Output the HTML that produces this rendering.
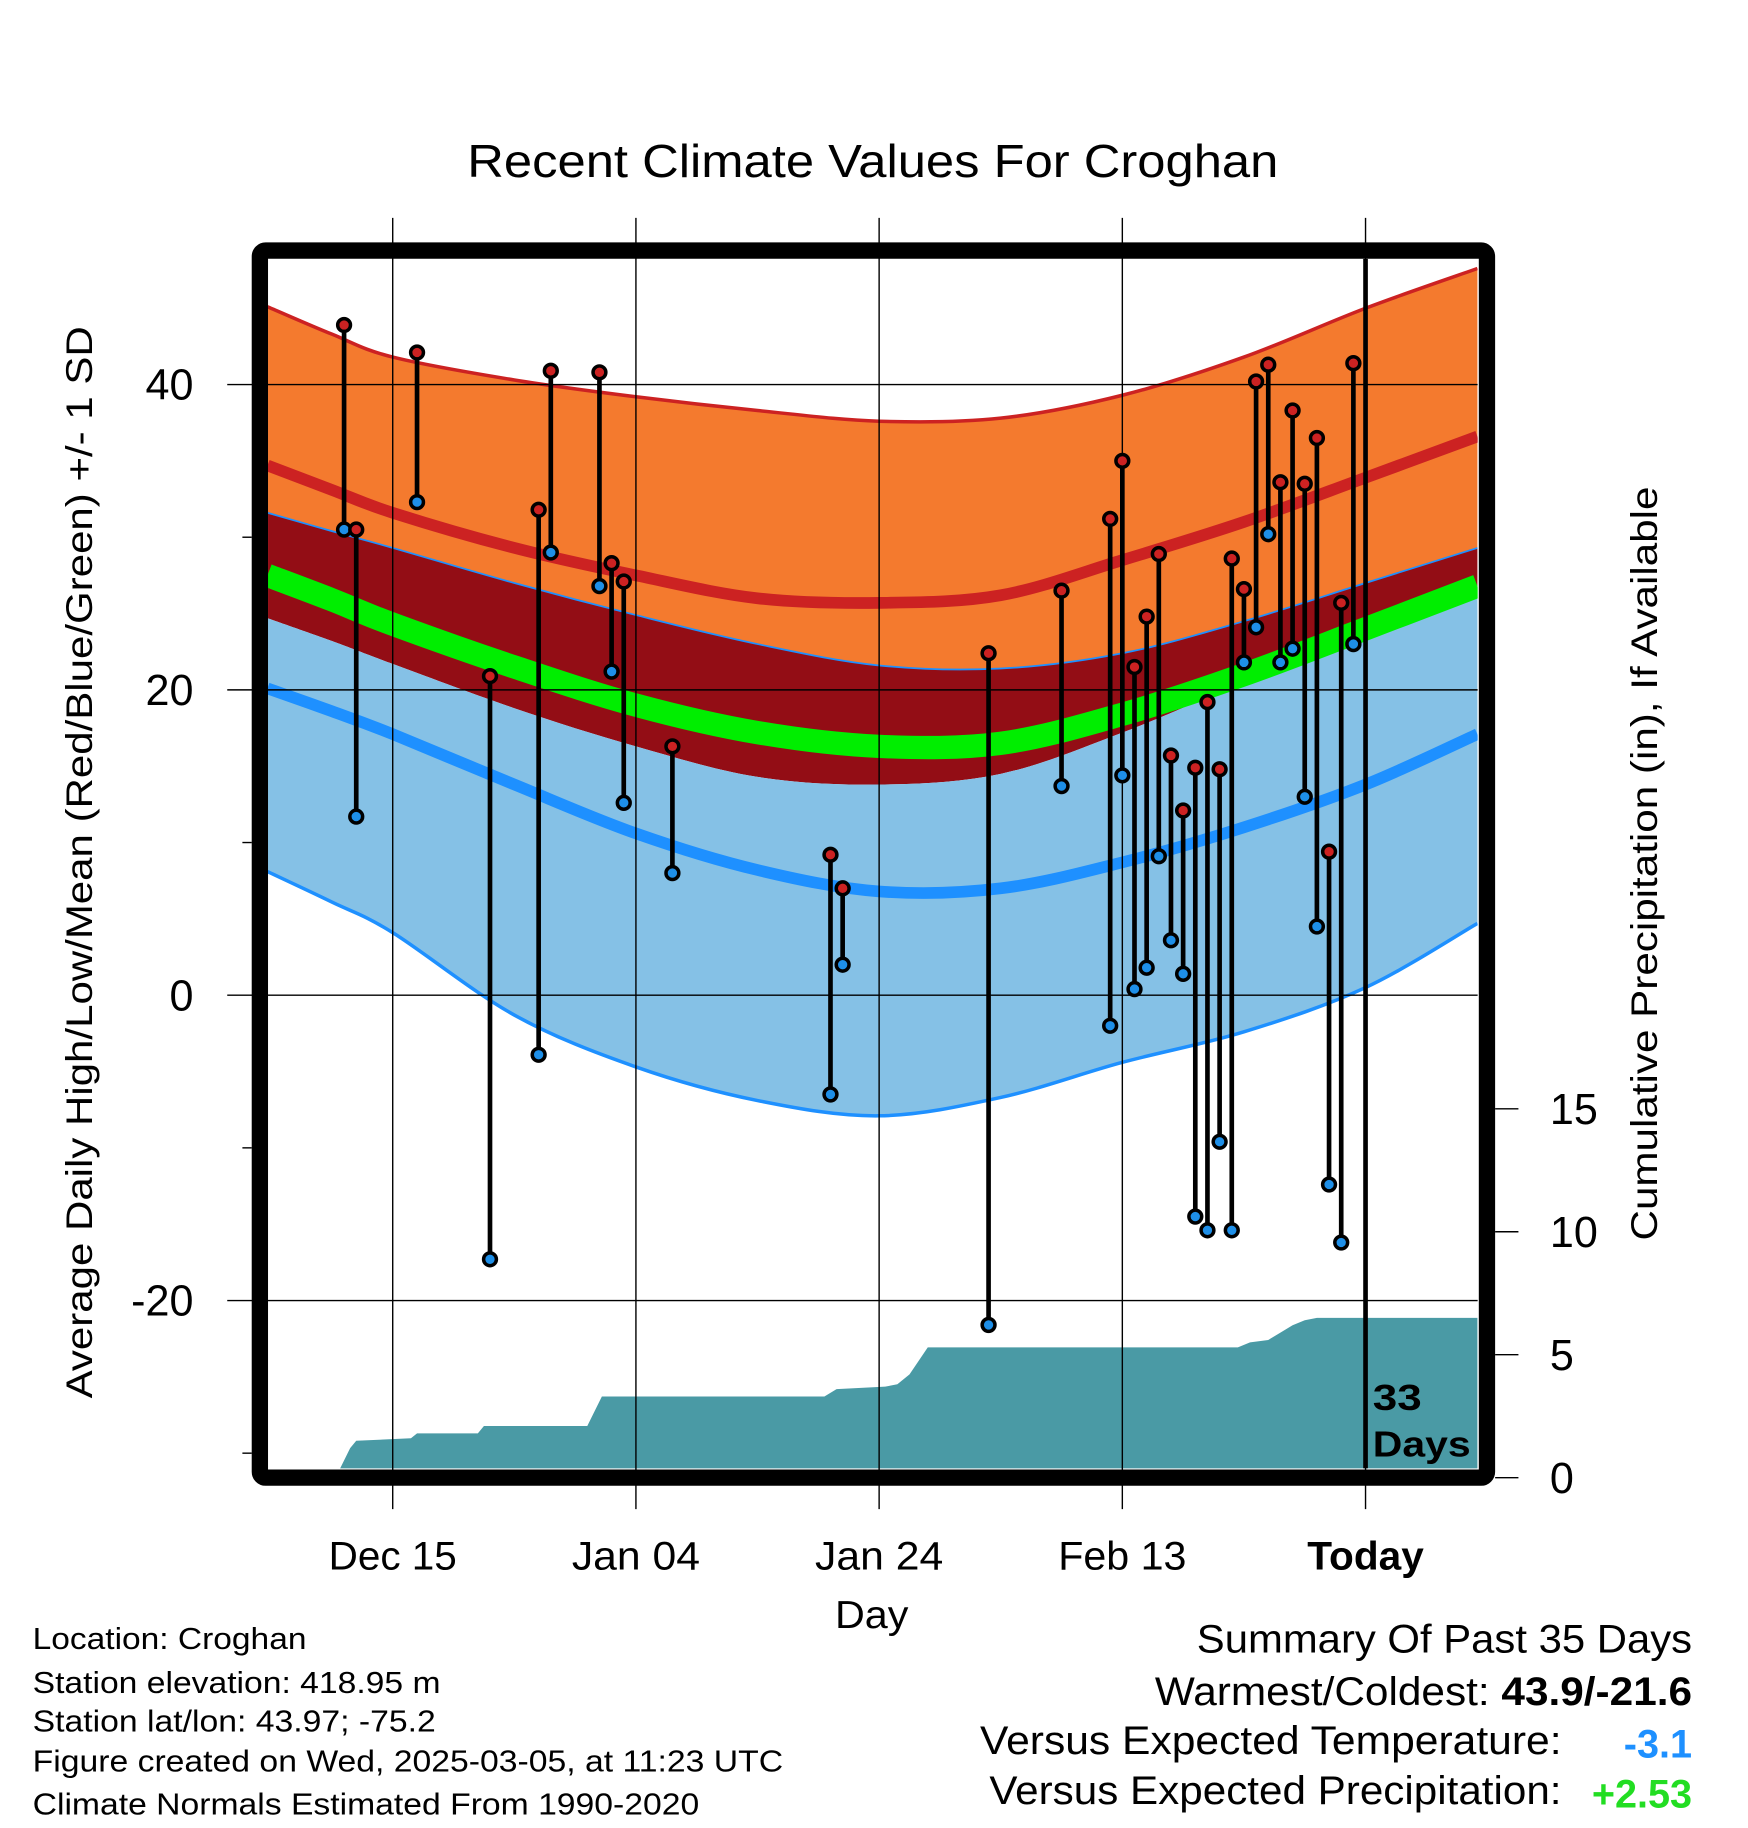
<!DOCTYPE html>
<html><head><meta charset="utf-8"><style>
html,body{margin:0;padding:0;background:#fff;}
svg{display:block;font-family:"Liberation Sans",sans-serif;}
</style></head><body>
<svg id="chart" width="1748" height="1828" viewBox="0 0 1500 1568.65" xmlns="http://www.w3.org/2000/svg">
<defs><clipPath id="plotclip"><rect x="230" y="222" width="1038" height="1038"/></clipPath></defs>
<g id="bands" clip-path="url(#plotclip)"></g>
<g id="precip" clip-path="url(#plotclip)"></g>
<g id="grid"></g>
<g id="stems" clip-path="url(#plotclip)"></g>
<rect x="223" y="215" width="1053" height="1053" rx="5" fill="none" stroke="#000" stroke-width="14"/>
<g id="axes"></g>
<text x="749" y="152" font-size="40" text-anchor="middle" textLength="696" lengthAdjust="spacingAndGlyphs">Recent Climate Values For Croghan</text>
<text transform="translate(79,740) rotate(-90)" font-size="32" text-anchor="middle" textLength="920" lengthAdjust="spacingAndGlyphs">Average Daily High/Low/Mean (Red/Blue/Green) +/- 1 SD</text>
<text transform="translate(1422,741) rotate(-90)" font-size="32" text-anchor="middle" textLength="647" lengthAdjust="spacingAndGlyphs">Cumulative Precipitation (in), If Available</text>
<text x="748" y="1397" font-size="33" text-anchor="middle" textLength="63" lengthAdjust="spacingAndGlyphs">Day</text>
<text x="1178" y="1210" font-size="31" font-weight="bold" textLength="42" lengthAdjust="spacingAndGlyphs">33</text>
<text x="1178" y="1250" font-size="31" font-weight="bold" textLength="84" lengthAdjust="spacingAndGlyphs">Days</text>
<g font-size="26">
<text x="28" y="1415" textLength="235" lengthAdjust="spacingAndGlyphs">Location: Croghan</text>
<text x="28" y="1453" textLength="350" lengthAdjust="spacingAndGlyphs">Station elevation: 418.95 m</text>
<text x="28" y="1486" textLength="346" lengthAdjust="spacingAndGlyphs">Station lat/lon: 43.97; -75.2</text>
<text x="28" y="1520" textLength="644" lengthAdjust="spacingAndGlyphs">Figure created on Wed, 2025-03-05, at 11:23 UTC</text>
<text x="28" y="1557" textLength="572" lengthAdjust="spacingAndGlyphs">Climate Normals Estimated From 1990-2020</text>
</g>
<g font-size="34">
<text x="1027" y="1418" textLength="425" lengthAdjust="spacingAndGlyphs">Summary Of Past 35 Days</text>
<text x="991" y="1463" textLength="461" lengthAdjust="spacingAndGlyphs">Warmest/Coldest: <tspan font-weight="bold">43.9/-21.6</tspan></text>
<text x="841" y="1505" textLength="499" lengthAdjust="spacingAndGlyphs">Versus Expected Temperature:</text>
<text x="1452" y="1508" text-anchor="end" font-weight="bold" fill="#1e90ff">-3.1</text>
<text x="849" y="1548" textLength="491" lengthAdjust="spacingAndGlyphs">Versus Expected Precipitation:</text>
<text x="1452" y="1551" text-anchor="end" font-weight="bold" fill="#22dd22">+2.53</text>
</g>
</svg>
<script>
// ---- data ----
const normDays = [-10.3, -5, 0, 10, 20, 30, 40, 50, 60, 70, 80, 89.2];
const upperSD  = [45.1, 43.3, 41.8, 40.3, 39.2, 38.3, 37.6, 37.8, 39.3, 41.8, 45.0, 47.6];
const meanHigh = [34.7, 33.1, 31.6, 29.3, 27.5, 26.0, 25.7, 26.2, 28.5, 31.0, 33.9, 36.6];
const highLowSD= [31.6, 30.4, 29.3, 27.0, 24.9, 23.0, 21.6, 21.4, 22.4, 24.5, 27.0, 29.3];
const meanAvg  = [27.5, 25.9, 24.3, 21.5, 19.0, 17.2, 16.3, 16.5, 18.4, 21.0, 24.0, 26.8];
const lowHighSD= [24.7, 23.2, 21.7, 18.8, 16.3, 14.3, 13.8, 14.5, 17.2, 20.5, 23.5, 26.0];
const meanLow  = [20.1, 18.6, 17.1, 13.8, 10.6, 8.2, 6.8, 7.0, 8.7, 11.0, 13.8, 17.1];
const lowerSD  = [8.1, 6.1, 4.1, -1.3, -4.7, -6.9, -7.9, -6.7, -4.4, -2.4, 0.5, 4.7];

const obsDays  = [-4,-3,2,8,12,13,17,18,19,23,36,37,49,55,59,60,61,62,63,64,65,66,67,68,69,70,71,72,73,74,75,76,77,78,79];
const obsHigh  = [43.9,30.5,42.1,20.9,31.8,40.9,40.8,28.3,27.1,16.3,9.2,7.0,22.4,26.5,31.2,35.0,21.5,24.8,28.9,15.7,12.1,14.9,19.2,14.8,28.6,26.6,40.2,41.3,33.6,38.3,33.5,36.5,9.4,25.7,41.4];
const obsLow   = [30.5,11.7,32.3,-17.3,-3.9,29.0,26.8,21.2,12.6,8.0,-6.5,2.0,-21.6,13.7,-2.0,14.4,0.4,1.8,9.1,3.6,1.4,-14.5,-15.4,-9.6,-15.4,21.8,24.1,30.2,21.8,22.7,13.0,4.5,-12.4,-16.2,23.0];

const precipDays = [-10.3,-4.7,-3.5,-3,1.5,2,7,7.5,16,17.2,35.5,36.5,40.5,41.5,42.5,44,69.5,70.5,72,73,74,75,76,89.2];
const precipCum  = [0,0,1.2,1.5,1.6,1.8,1.8,2.1,2.1,3.3,3.3,3.6,3.7,3.8,4.2,5.3,5.3,5.5,5.6,5.9,6.2,6.4,6.5,6.5];

const xTickDays = [0,20,40,60,80];
const xTickLabels = ["Dec 15","Jan 04","Jan 24","Feb 13","Today"];
const yTicks = [40,20,0,-20];
const yMinor = [30,10,-10,-30];
const pTicks = [0,5,10,15];

// ---- scales ----
const X = d => 337 + d*10.435;
const Y = v => 854 - v*13.1;
const P = p => 1268 - p*21.1;
const NS = "http://www.w3.org/2000/svg";
function mk(tag, attrs, parent){ const e=document.createElementNS(NS,tag); for(const k in attrs) e.setAttribute(k,attrs[k]); parent.appendChild(e); return e; }
function pts(vals){ return normDays.map((d,i)=>[X(d),Y(vals[i])]); }
function smooth(p){
  let s = `M${p[0][0]},${p[0][1]}`;
  for(let i=0;i<p.length-1;i++){
    const p0=p[i-1]||p[i], p1=p[i], p2=p[i+1], p3=p[i+2]||p2;
    const c1=[p1[0]+(p2[0]-p0[0])/6, p1[1]+(p2[1]-p0[1])/6];
    const c2=[p2[0]-(p3[0]-p1[0])/6, p2[1]-(p3[1]-p1[1])/6];
    s += ` C${c1[0]},${c1[1]} ${c2[0]},${c2[1]} ${p2[0]},${p2[1]}`;
  }
  return s;
}
function band(topVals, botVals){
  const t = pts(topVals), b = pts(botVals).reverse();
  return smooth(t) + ' L' + smooth(b).slice(1) + ' Z';
}
const bands = document.getElementById('bands');
let e;
e = mk('path',{d:band(upperSD,highLowSD),fill:'#f47a2e'},bands);


e = mk('path',{d:band(highLowSD,lowHighSD),fill:'#930d15'},bands);


e = mk('path',{d:band(lowHighSD,lowerSD),fill:'#85c1e6'},bands);


e = mk('path',{d:smooth(pts(upperSD)),fill:'none',stroke:'#cc2222','stroke-width':3},bands);


e = mk('path',{d:smooth(pts(highLowSD)),fill:'none',stroke:'#1e90ff','stroke-width':1.5},bands);


e = mk('path',{d:smooth(pts(lowerSD)),fill:'none',stroke:'#1e90ff','stroke-width':3},bands);


e = mk('path',{d:smooth(pts(meanHigh)),fill:'none',stroke:'#cc2222','stroke-width':10},bands);


e = mk('path',{d:smooth(pts(meanAvg)),fill:'none',stroke:'#00ee00','stroke-width':20},bands);


e = mk('path',{d:smooth(pts(meanLow)),fill:'none',stroke:'#1e90ff','stroke-width':10},bands);



// precip
const pg = document.getElementById('precip');
let pd = `M${X(precipDays[0])},${P(0)}`;
precipDays.forEach((d,i)=>{ pd += ` L${X(d)},${P(precipCum[i])}`; });
pd += ` L${X(precipDays[precipDays.length-1])},${P(0)} Z`;
e = mk('path',{d:pd,fill:'#4a9aa5'},pg);



// grid
const grid = document.getElementById('grid');
xTickDays.forEach((d,i)=>{
  e = mk('line',{x1:X(d),x2:X(d),y1:187,y2:1295,stroke:'#000','stroke-width':1.2},grid);
  
  
});
yTicks.forEach(v=>{
  e = mk('line',{x1:195,x2:1268,y1:Y(v),y2:Y(v),stroke:'#000','stroke-width':1.2},grid);
  
  
});

// stems
const sg = document.getElementById('stems');
obsDays.forEach((d,i)=>{
  const x=X(d);
  e = mk('line',{x1:x,x2:x,y1:Y(obsHigh[i]),y2:Y(obsLow[i]),stroke:'#000','stroke-width':4},sg);
  
  
});
obsDays.forEach((d,i)=>{
  const x=X(d);
  e = mk('circle',{cx:x,cy:Y(obsHigh[i]),r:5.5,fill:'#cc2222',stroke:'#000','stroke-width':3},sg);
  
  
  e = mk('circle',{cx:x,cy:Y(obsLow[i]),r:5.5,fill:'#1e8fe8',stroke:'#000','stroke-width':3},sg);
  
  
});
e = mk('line',{x1:X(80),x2:X(80),y1:222,y2:1260,stroke:'#000','stroke-width':4},sg);



// axes labels
const ax = document.getElementById('axes');
xTickDays.forEach((d,i)=>{
  e = mk('text',{x:X(d),y:1347,'font-size':34,'text-anchor':'middle','font-weight':i==4?'bold':'normal',textLength:i==4?100:110,lengthAdjust:'spacingAndGlyphs'},ax);
  e.textContent = xTickLabels[i];
  
  
});
yTicks.forEach(v=>{
  e = mk('text',{x:166,y:Y(v)+13,'font-size':37,'text-anchor':'end'},ax);
  e.textContent = v;
  
  
});
yMinor.forEach(v=>{
  e = mk('line',{x1:208,x2:216,y1:Y(v),y2:Y(v),stroke:'#000','stroke-width':1.2},ax);
  
  
});
pTicks.forEach(p=>{
  e = mk('line',{x1:1283,x2:1303,y1:P(p),y2:P(p),stroke:'#000','stroke-width':1.2},ax);
  
  
  e = mk('text',{x:1330,y:P(p)+13,'font-size':37},ax);
  e.textContent = p;
  
  
});
</script>
</body></html>
